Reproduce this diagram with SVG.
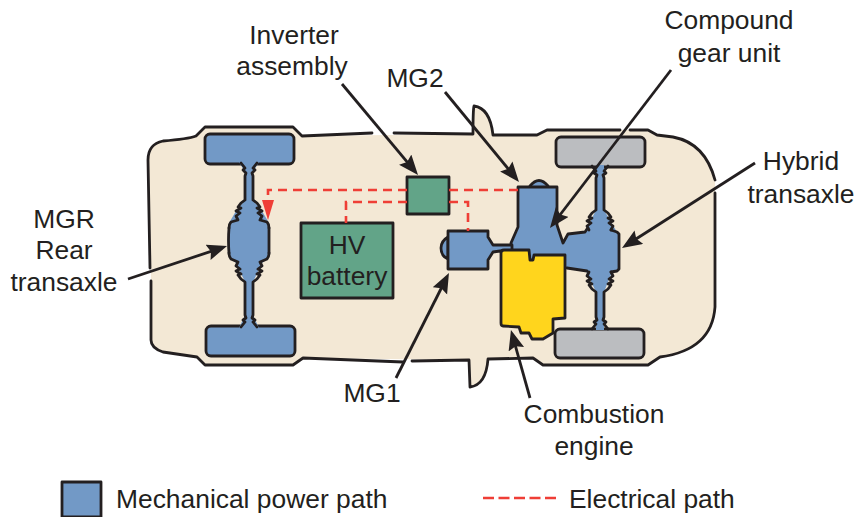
<svg xmlns="http://www.w3.org/2000/svg" width="856" height="517" viewBox="0 0 856 517">
<style>
text{font-family:"Liberation Sans",Arial,sans-serif;font-size:26.4px;fill:#231f20}
.m{text-anchor:middle}
.o{fill:none;stroke:#231f20;stroke-width:2.8;stroke-linejoin:round;stroke-linecap:round}
.s{stroke:#231f20;stroke-width:2.8;stroke-linejoin:round}
.b{fill:#7299c6}
.w{fill:#7299c6}
.g{fill:#bbbdc0}
.t{fill:#62a488}
.e{fill:none;stroke:#ef3e36;stroke-width:2.6;stroke-dasharray:9 6}
.l{fill:none;stroke:#ef3e36;stroke-width:2.6;stroke-dasharray:11 4.5}
.a{fill:none;stroke:#231f20;stroke-width:2.8;marker-end:url(#h)}
</style>
<defs>
<marker id="h" markerUnits="userSpaceOnUse" markerWidth="24" markerHeight="18" refX="15" refY="8" orient="auto"><path d="M0,0 L20,8 L0,16 L3,8 Z" fill="#231f20"/></marker>
<marker id="r" markerUnits="userSpaceOnUse" markerWidth="14" markerHeight="22" refX="6" refY="0" orient="0"><path d="M0,0 H12 L6,20 Z" fill="#ef3e36"/></marker>
<path id="bumpsL" class="o" d="M241,163 L245,168 L243,170 L246,173 L245,176 V200 L241,203 L238,207 L241,208 L236,211 L240,213 L236,216 L238,220 L231,222 Q229,224 229,228"/>
<path id="bumpsL2" class="o" d="M241,327 L245,322 L243,320 L246,318 L245,315 V282 L241,279 L238,275 L241,274 L236,271 L240,269 L236,266 L238,262 L231,259 Q229,257 229,253"/>
<path id="bumpsR" class="o" d="M592,166 L596,171 L594,173 L597,175 L596,178 V210 L592,213 L589,217 L592,218 L587,221 L591,223 L587,226 L589,230"/>
<path id="bumpsF" class="o" d="M592,329 L596,324 L594,322 L597,320 L596,317 V292 L592,289 L589,285 L592,284 L587,281 L591,279 L587,276 L589,272"/>
</defs>
<g id="car-body">
<path fill="#f3e8d5" d="M148,160 Q148,144 163,141 Q188,139 196,136 L205,127 H293 L302,136 L473,134 Q473,110 474,106 Q490,108 493,135 L537,135 L547,130 H648 L657,135 L673,137 Q705,143 715,180 V307 Q712,350 660,357 L648,365 H543 L533,358 L488,359 Q486,385 470,387 L469,360 L303,358 L293,365 H205 L197,357 L163,352 Q151,348 151,340 V280 Z"/>
<path class="o" d="M150,268 L148,160 Q148,144 163,141 Q188,139 196,136 L205,127 H293 L302,136 L372,133 M394,133 L473,134 Q473,110 474,106 Q490,108 493,135 L537,135 L547,130 H620 M630,130 H648 L657,135 L673,137 Q705,143 715,180 M715,193 V307 Q712,350 660,357 L648,365 H543 L533,358 L488,359 Q486,385 470,387 L469,360 L412,361 M403,362 L303,358 L293,365 H205 L197,357 L163,352 Q151,348 151,340 V281"/>
</g>
<g id="rear-axle">
<rect class="w s" x="205" y="134" width="89" height="30" rx="5"/>
<rect class="w s" x="206" y="326" width="89" height="30" rx="5"/>
<path class="b" d="M239,162 L245,172 V200 L236,211 L229,223 V257 L236,263 L245,282 V315 L239,328 H259 L253,315 V282 L262,263 L269,257 V223 L262,211 L253,200 V172 L259,162 Z"/>
<use href="#bumpsL"/>
<use href="#bumpsL" transform="translate(498,0) scale(-1,1)"/>
<use href="#bumpsL2"/>
<use href="#bumpsL2" transform="translate(498,0) scale(-1,1)"/>
<path class="o" d="M229,228 Q228,240 229,253 M269,228 V253"/>
</g>
<g id="front-wheels">
<rect class="g s" x="556" y="137" width="89" height="30" rx="5"/>
<rect class="g s" x="555" y="329" width="89" height="29" rx="5"/>
</g>
<g id="hybrid-transaxle">
<path class="b" d="M518,187 H557 V225 L563,243 L568,234 L585,232 L596,210 V165 H604 V210 L617,232 L619,233 V270 L612,272 L604,292 V330 H596 V292 L586,271 L567,268 L511,262 V243 L518,227 Z"/>
<path class="b" d="M530,187 Q539,175 548,187 Z"/>
<path class="o" d="M530,186 Q539,175 548,186"/>
<path class="o" d="M511,246 L511,243 L518,227 V187 H557 V225 L563,243 L568,234 L585,232 L587,229"/>
<use href="#bumpsR"/>
<use href="#bumpsR" transform="translate(1200,0) scale(-1,1)"/>
<use href="#bumpsF"/>
<use href="#bumpsF" transform="translate(1200,0) scale(-1,1)"/>
<path class="o" d="M611,230 L617,232 L619,234 V269 L617,271 L611,272 M587,271 L567,268"/>
</g>
<g id="mg1">
<path class="b s" d="M448,237 Q441,241 441,248 Q441,256 448,259 Z"/>
<path class="b s" d="M448,231 H488 V237 L493,245 H512 V252 L500,251 L493,252 L488,260 V269 H448 Z"/>
</g>
<g id="combustion-engine">
<path class="s" fill="#ffd51d" d="M501,253 Q501,250 504,250 H529 L530,260 H533 L534,255 H565 V318 L553,319 V333 L543,339 H532 L529,333 L521,333 L519,327 L503,326 Q501,326 501,323 Z"/>
</g>
<g id="inverter-assembly">
<rect class="t s" x="407" y="177" width="42" height="37"/>
</g>
<g id="hv-battery">
<rect class="t s" x="301" y="223" width="92" height="75"/>
<text class="m" x="347" y="254">HV</text>
<text class="m" x="347" y="285">battery</text>
</g>
<g id="connectors">
<path class="e" d="M407,190 H268 V200" marker-end="url(#r)"/>
<path class="e" d="M407,202 H346 V223"/>
<path class="e" d="M449,190 H518"/>
<path class="e" d="M449,202 H468 V231"/>
<path class="a" d="M342,84 L414.8,171.2"/>
<path class="a" d="M445,92 L515.8,178.1"/>
<path class="a" d="M671,70 L553,224"/>
<path class="a" d="M755,163 L626.2,245.3"/>
<path class="a" d="M128,279 L222.3,247.6"/>
<path class="a" d="M396,378 L446.7,277.5"/>
<path class="a" d="M530,398 L512.3,334.8"/>
</g>
<g id="labels">
<text class="m" x="729" y="29">Compound</text>
<text class="m" x="729" y="62">gear unit</text>
<text class="m" x="294" y="44">Inverter</text>
<text class="m" x="292" y="75">assembly</text>
<text class="m" x="415" y="87">MG2</text>
<text class="m" x="801" y="170">Hybrid</text>
<text class="m" x="801" y="203">transaxle</text>
<text class="m" x="64" y="228">MGR</text>
<text class="m" x="64" y="259">Rear</text>
<text class="m" x="64" y="291">transaxle</text>
<text class="m" x="372" y="402">MG1</text>
<text class="m" x="594" y="423">Combustion</text>
<text class="m" x="594" y="455">engine</text>
</g>
<g id="legend">
<rect class="w s" x="62" y="482" width="39" height="35"/>
<text x="116" y="508">Mechanical power path</text>
<path class="l" d="M483,498 H556"/>
<text x="569" y="508">Electrical path</text>
</g>
</svg>
